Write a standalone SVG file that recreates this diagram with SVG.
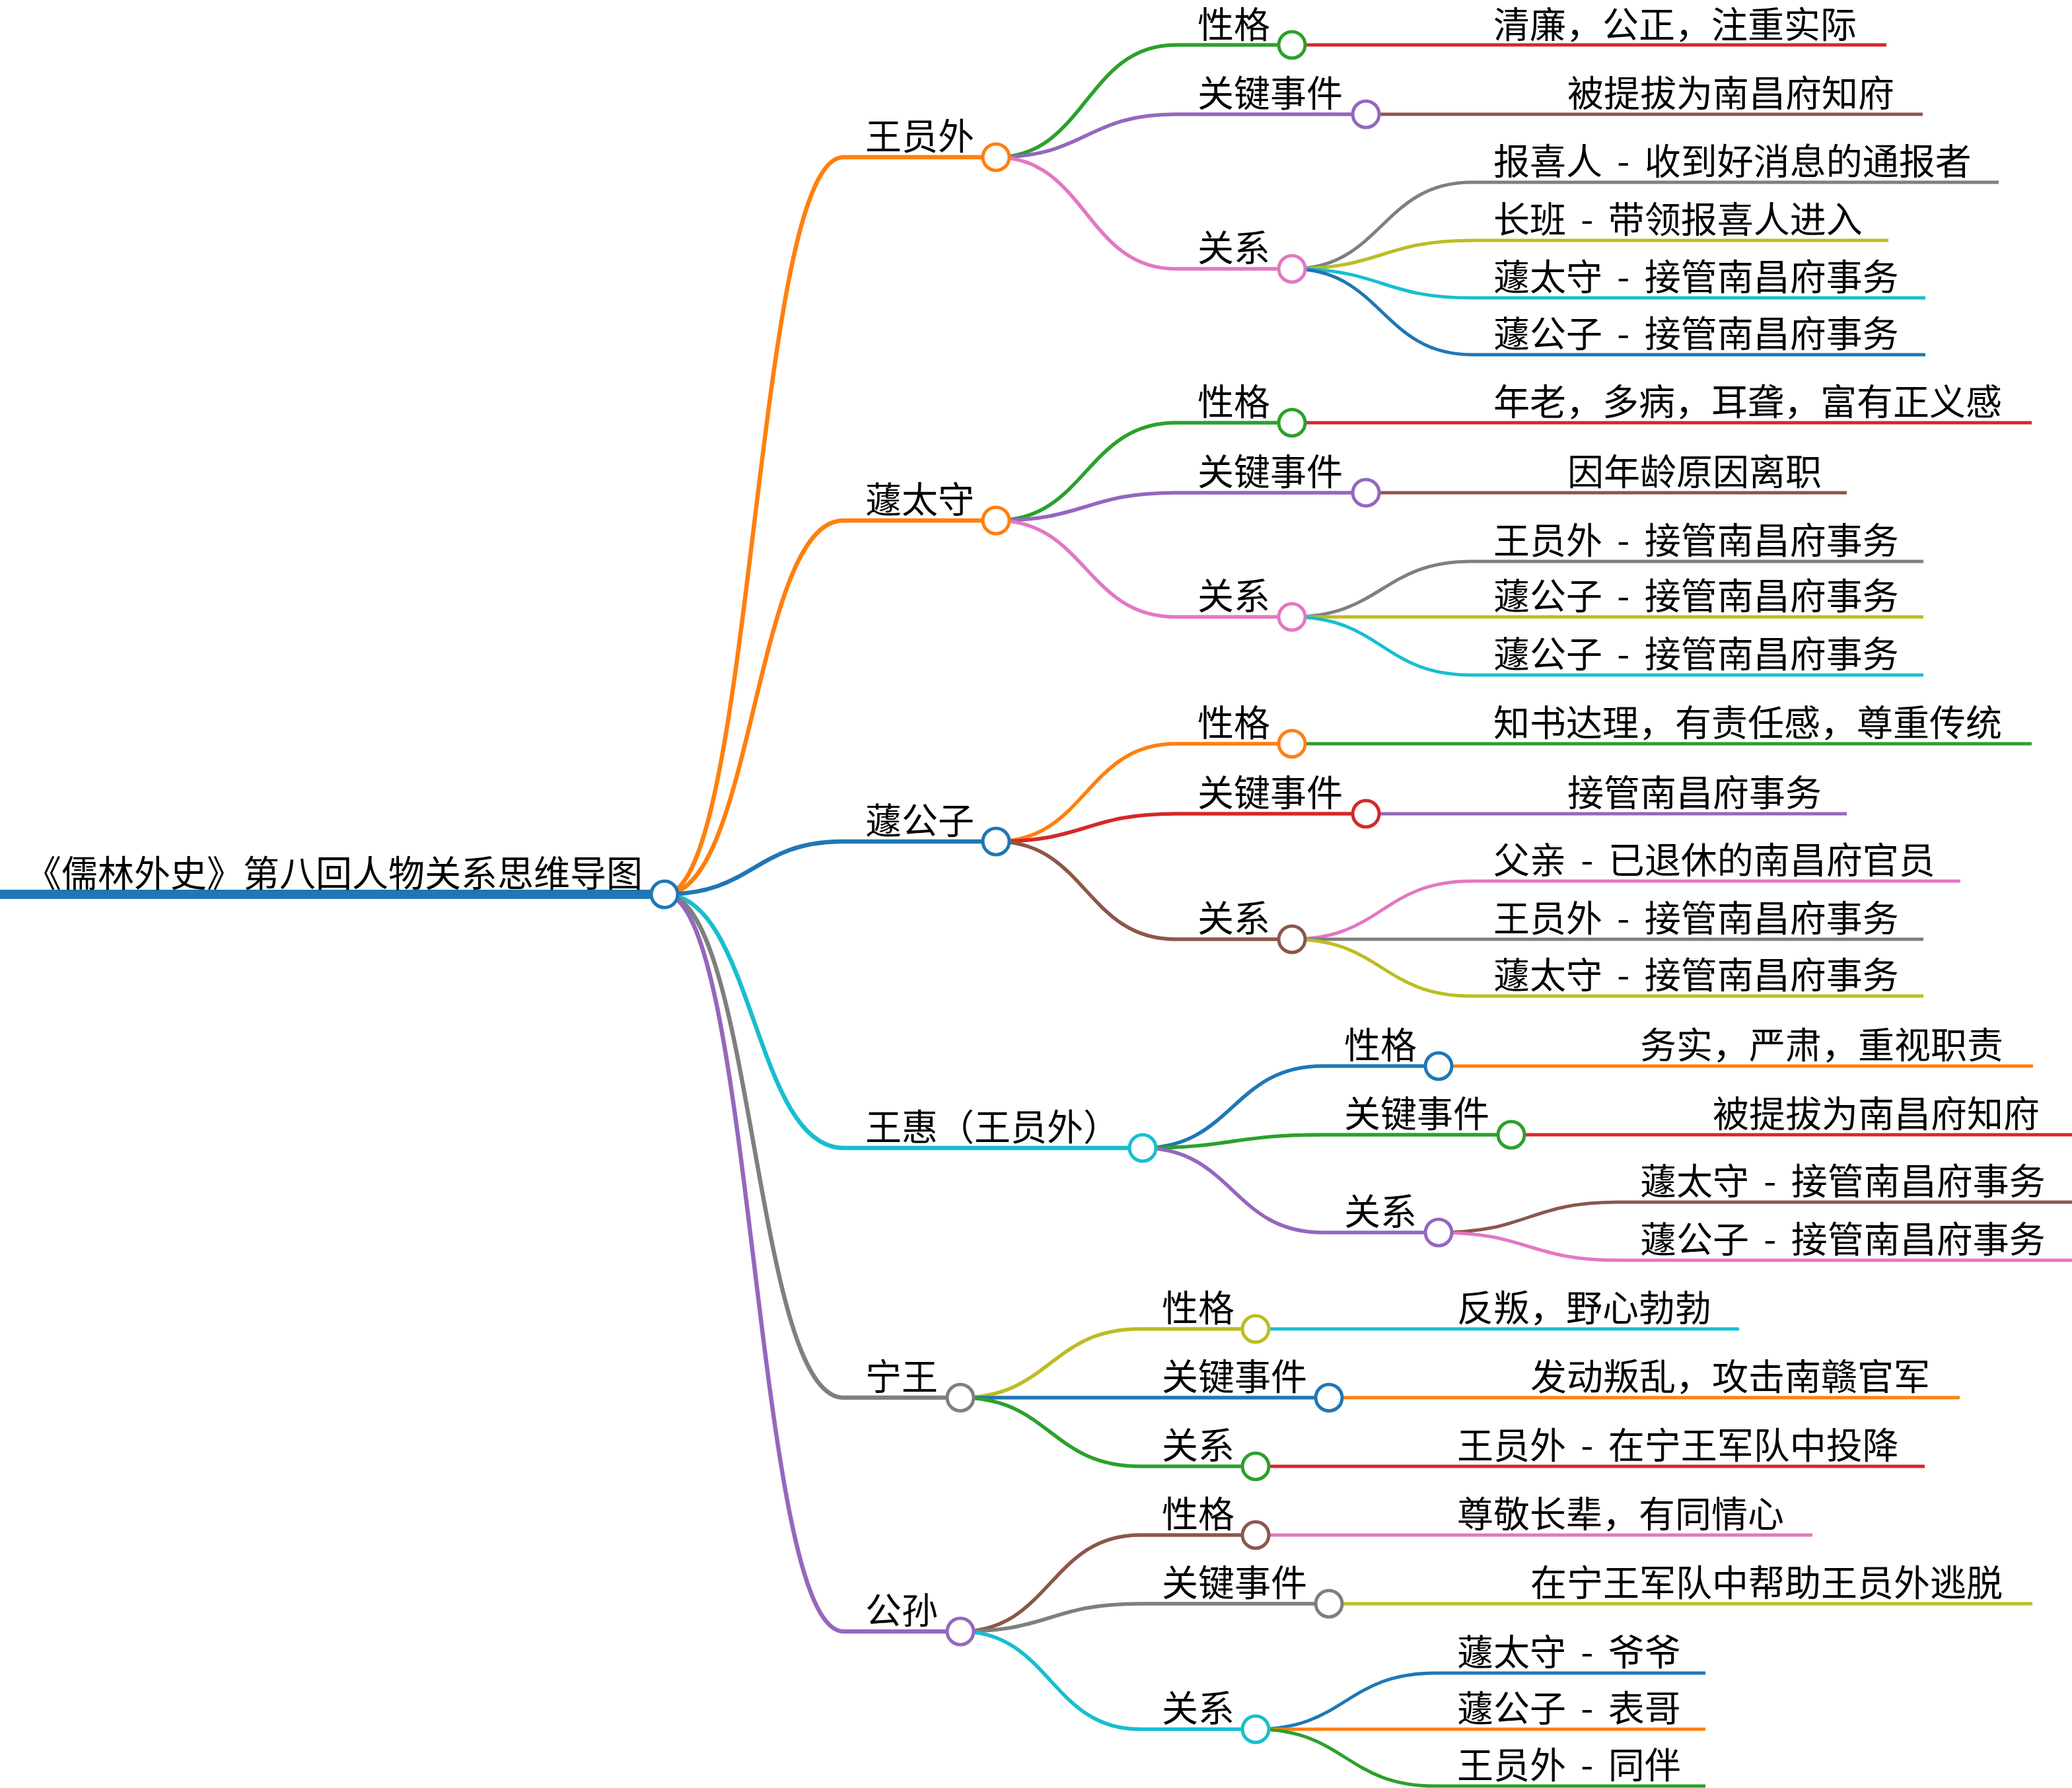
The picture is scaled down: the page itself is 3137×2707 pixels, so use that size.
<svg xmlns="http://www.w3.org/2000/svg" width="3137" height="2707" viewBox="0 0 3137 2707">
<style>
path,line{fill:none;stroke-linecap:butt}
text{font-family:"Noto Sans CJK SC","Noto Sans",sans-serif;font-size:55px;fill:#000;word-spacing:10px}
circle{fill:#fff;stroke-width:5}
.l1{stroke-width:6.5}.l2{stroke-width:5.5}.l3{stroke-width:5}
.c0{stroke:#1f77b4}.c1{stroke:#ff7f0e}.c2{stroke:#2ca02c}.c3{stroke:#d62728}.c4{stroke:#9467bd}
.c5{stroke:#8c564b}.c6{stroke:#e377c2}.c7{stroke:#7f7f7f}.c8{stroke:#bcbd22}.c9{stroke:#17becf}
</style>
<rect width="3137" height="2707" fill="#fff"/>
<g id="connectors">
<path class="l1 c1" d="M1006,1354 C1141.5,1354 1141.5,238 1277,238"/>
<path class="l1 c1" d="M1006,1354 C1141.5,1354 1141.5,788 1277,788"/>
<path class="l1 c0" d="M1006,1354 C1141.5,1354 1141.5,1274 1277,1274"/>
<path class="l1 c9" d="M1006,1354 C1141.5,1354 1141.5,1738 1277,1738"/>
<path class="l1 c7" d="M1006,1354 C1141.5,1354 1141.5,2116 1277,2116"/>
<path class="l1 c4" d="M1006,1354 C1141.5,1354 1141.5,2470 1277,2470"/>
<path class="l2 c2" d="M1508,238 C1644,238 1644,68 1780,68"/>
<path class="l2 c4" d="M1508,238 C1644,238 1644,173 1780,173"/>
<path class="l2 c6" d="M1508,238 C1644,238 1644,407 1780,407"/>
<path class="l2 c2" d="M1508,788 C1644,788 1644,640 1780,640"/>
<path class="l2 c4" d="M1508,788 C1644,788 1644,746 1780,746"/>
<path class="l2 c6" d="M1508,788 C1644,788 1644,934 1780,934"/>
<path class="l2 c1" d="M1508,1274 C1644,1274 1644,1126 1780,1126"/>
<path class="l2 c3" d="M1508,1274 C1644,1274 1644,1232 1780,1232"/>
<path class="l2 c5" d="M1508,1274 C1644,1274 1644,1422 1780,1422"/>
<path class="l2 c0" d="M1730,1738 C1866,1738 1866,1614 2002,1614"/>
<path class="l2 c2" d="M1730,1738 C1866,1738 1866,1718 2002,1718"/>
<path class="l2 c4" d="M1730,1738 C1866,1738 1866,1866 2002,1866"/>
<path class="l2 c8" d="M1454,2116 C1590,2116 1590,2012 1726,2012"/>
<path class="l2 c0" d="M1454,2116 C1590,2116 1590,2116 1726,2116"/>
<path class="l2 c2" d="M1454,2116 C1590,2116 1590,2220 1726,2220"/>
<path class="l2 c5" d="M1454,2470 C1590,2470 1590,2324 1726,2324"/>
<path class="l2 c7" d="M1454,2470 C1590,2470 1590,2428 1726,2428"/>
<path class="l2 c9" d="M1454,2470 C1590,2470 1590,2618 1726,2618"/>
<path class="l3 c3" d="M1956,68 H2228"/>
<path class="l3 c5" d="M2068,173 H2340"/>
<path class="l3 c7" d="M1956,407 C2092,407 2092,276 2228,276"/>
<path class="l3 c8" d="M1956,407 C2092,407 2092,364 2228,364"/>
<path class="l3 c9" d="M1956,407 C2092,407 2092,451 2228,451"/>
<path class="l3 c0" d="M1956,407 C2092,407 2092,537 2228,537"/>
<path class="l3 c3" d="M1956,640 H2228"/>
<path class="l3 c5" d="M2068,746 H2340"/>
<path class="l3 c7" d="M1956,934 C2092,934 2092,850 2228,850"/>
<path class="l3 c8" d="M1956,934 H2228"/>
<path class="l3 c9" d="M1956,934 C2092,934 2092,1022 2228,1022"/>
<path class="l3 c2" d="M1956,1126 H2228"/>
<path class="l3 c4" d="M2068,1232 H2340"/>
<path class="l3 c6" d="M1956,1422 C2092,1422 2092,1334 2228,1334"/>
<path class="l3 c7" d="M1956,1422 H2228"/>
<path class="l3 c8" d="M1956,1422 C2092,1422 2092,1508 2228,1508"/>
<path class="l3 c1" d="M2178,1614 H2450"/>
<path class="l3 c3" d="M2288,1718 H2560"/>
<path class="l3 c5" d="M2178,1866 C2314,1866 2314,1820 2450,1820"/>
<path class="l3 c6" d="M2178,1866 C2314,1866 2314,1908 2450,1908"/>
<path class="l3 c9" d="M1901,2012 H2173"/>
<path class="l3 c1" d="M2012,2116 H2284"/>
<path class="l3 c3" d="M1901,2220 H2173"/>
<path class="l3 c6" d="M1901,2324 H2173"/>
<path class="l3 c8" d="M2012,2428 H2284"/>
<path class="l3 c0" d="M1901,2618 C2037,2618 2037,2533 2173,2533"/>
<path class="l3 c1" d="M1901,2618 H2173"/>
<path class="l3 c2" d="M1901,2618 C2037,2618 2037,2704 2173,2704"/>
</g>
<g id="root"><path class="c0" stroke-width="14" d="M0,1354 H1006"/><circle class="c0" cx="1006" cy="1354" r="20" stroke-width="6"/><text x="38" y="1342">《儒林外史》第八回人物关系思维导图</text></g>
<g id="n-wang"><path class="l1 c1" d="M1277,238 H1508"/><circle class="c1" cx="1508" cy="238" r="20"/><text x="1310" y="226">王员外</text></g>
<g id="n-wang-xg"><path class="l2 c2" d="M1780,68 H1956"/><circle class="c2" cx="1956" cy="68" r="20"/><text x="1813" y="57">性格</text></g>
<g id="n-wang-xg-1"><path class="l3 c3" d="M2228,68 H2856"/><text x="2261" y="57">清廉，公正，注重实际</text></g>
<g id="n-wang-sj"><path class="l2 c4" d="M1780,173 H2068"/><circle class="c4" cx="2068" cy="173" r="20"/><text x="1813" y="161">关键事件</text></g>
<g id="n-wang-sj-1"><path class="l3 c5" d="M2340,173 H2911"/><text x="2373" y="161">被提拔为南昌府知府</text></g>
<g id="n-wang-gx"><path class="l2 c6" d="M1780,407 H1956"/><circle class="c6" cx="1956" cy="407" r="20"/><text x="1813" y="395">关系</text></g>
<g id="n-wang-gx-1"><path class="l3 c7" d="M2228,276 H3026"/><text x="2261" y="264">报喜人 - 收到好消息的通报者</text></g>
<g id="n-wang-gx-2"><path class="l3 c8" d="M2228,364 H2859"/><text x="2261" y="352">长班 - 带领报喜人进入</text></g>
<g id="n-wang-gx-3"><path class="l3 c9" d="M2228,451 H2915"/><text x="2261" y="439">蘧太守 - 接管南昌府事务</text></g>
<g id="n-wang-gx-4"><path class="l3 c0" d="M2228,537 H2915"/><text x="2261" y="525">蘧公子 - 接管南昌府事务</text></g>
<g id="n-qts"><path class="l1 c1" d="M1277,788 H1508"/><circle class="c1" cx="1508" cy="788" r="20"/><text x="1310" y="776">蘧太守</text></g>
<g id="n-qts-xg"><path class="l2 c2" d="M1780,640 H1956"/><circle class="c2" cx="1956" cy="640" r="20"/><text x="1813" y="628">性格</text></g>
<g id="n-qts-xg-1"><path class="l3 c3" d="M2228,640 H3076"/><text x="2261" y="628">年老，多病，耳聋，富有正义感</text></g>
<g id="n-qts-sj"><path class="l2 c4" d="M1780,746 H2068"/><circle class="c4" cx="2068" cy="746" r="20"/><text x="1813" y="734">关键事件</text></g>
<g id="n-qts-sj-1"><path class="l3 c5" d="M2340,746 H2796"/><text x="2373" y="734">因年龄原因离职</text></g>
<g id="n-qts-gx"><path class="l2 c6" d="M1780,934 H1956"/><circle class="c6" cx="1956" cy="934" r="20"/><text x="1813" y="922">关系</text></g>
<g id="n-qts-gx-1"><path class="l3 c7" d="M2228,850 H2912"/><text x="2261" y="838">王员外 - 接管南昌府事务</text></g>
<g id="n-qts-gx-2"><path class="l3 c8" d="M2228,934 H2912"/><text x="2261" y="922">蘧公子 - 接管南昌府事务</text></g>
<g id="n-qts-gx-3"><path class="l3 c9" d="M2228,1022 H2912"/><text x="2261" y="1010">蘧公子 - 接管南昌府事务</text></g>
<g id="n-qgz"><path class="l1 c0" d="M1277,1274 H1508"/><circle class="c0" cx="1508" cy="1274" r="20"/><text x="1310" y="1262">蘧公子</text></g>
<g id="n-qgz-xg"><path class="l2 c1" d="M1780,1126 H1956"/><circle class="c1" cx="1956" cy="1126" r="20"/><text x="1813" y="1114">性格</text></g>
<g id="n-qgz-xg-1"><path class="l3 c2" d="M2228,1126 H3076"/><text x="2261" y="1114">知书达理，有责任感，尊重传统</text></g>
<g id="n-qgz-sj"><path class="l2 c3" d="M1780,1232 H2068"/><circle class="c3" cx="2068" cy="1232" r="20"/><text x="1813" y="1220">关键事件</text></g>
<g id="n-qgz-sj-1"><path class="l3 c4" d="M2340,1232 H2796"/><text x="2373" y="1220">接管南昌府事务</text></g>
<g id="n-qgz-gx"><path class="l2 c5" d="M1780,1422 H1956"/><circle class="c5" cx="1956" cy="1422" r="20"/><text x="1813" y="1410">关系</text></g>
<g id="n-qgz-gx-1"><path class="l3 c6" d="M2228,1334 H2968"/><text x="2261" y="1322">父亲 - 已退休的南昌府官员</text></g>
<g id="n-qgz-gx-2"><path class="l3 c7" d="M2228,1422 H2912"/><text x="2261" y="1410">王员外 - 接管南昌府事务</text></g>
<g id="n-qgz-gx-3"><path class="l3 c8" d="M2228,1508 H2912"/><text x="2261" y="1496">蘧太守 - 接管南昌府事务</text></g>
<g id="n-wh"><path class="l1 c9" d="M1277,1738 H1730"/><circle class="c9" cx="1730" cy="1738" r="20"/><text x="1310" y="1726">王惠（王员外）</text></g>
<g id="n-wh-xg"><path class="l2 c0" d="M2002,1614 H2178"/><circle class="c0" cx="2178" cy="1614" r="20"/><text x="2035" y="1602">性格</text></g>
<g id="n-wh-xg-1"><path class="l3 c1" d="M2450,1614 H3078"/><text x="2483" y="1602">务实，严肃，重视职责</text></g>
<g id="n-wh-sj"><path class="l2 c2" d="M2002,1718 H2288"/><circle class="c2" cx="2288" cy="1718" r="20"/><text x="2035" y="1706">关键事件</text></g>
<g id="n-wh-sj-1"><path class="l3 c3" d="M2560,1718 H3137"/><text x="2593" y="1706">被提拔为南昌府知府</text></g>
<g id="n-wh-gx"><path class="l2 c4" d="M2002,1866 H2178"/><circle class="c4" cx="2178" cy="1866" r="20"/><text x="2035" y="1854">关系</text></g>
<g id="n-wh-gx-1"><path class="l3 c5" d="M2450,1820 H3137"/><text x="2483" y="1808">蘧太守 - 接管南昌府事务</text></g>
<g id="n-wh-gx-2"><path class="l3 c6" d="M2450,1908 H3137"/><text x="2483" y="1896">蘧公子 - 接管南昌府事务</text></g>
<g id="n-nw"><path class="l1 c7" d="M1277,2116 H1454"/><circle class="c7" cx="1454" cy="2116" r="20"/><text x="1310" y="2104">宁王</text></g>
<g id="n-nw-xg"><path class="l2 c8" d="M1726,2012 H1901"/><circle class="c8" cx="1901" cy="2012" r="20"/><text x="1759" y="2000">性格</text></g>
<g id="n-nw-xg-1"><path class="l3 c9" d="M2173,2012 H2633"/><text x="2206" y="2000">反叛，野心勃勃</text></g>
<g id="n-nw-sj"><path class="l2 c0" d="M1726,2116 H2012"/><circle class="c0" cx="2012" cy="2116" r="20"/><text x="1759" y="2104">关键事件</text></g>
<g id="n-nw-sj-1"><path class="l3 c1" d="M2284,2116 H2967"/><text x="2317" y="2104">发动叛乱，攻击南赣官军</text></g>
<g id="n-nw-gx"><path class="l2 c2" d="M1726,2220 H1901"/><circle class="c2" cx="1901" cy="2220" r="20"/><text x="1759" y="2208">关系</text></g>
<g id="n-nw-gx-1"><path class="l3 c3" d="M2173,2220 H2914"/><text x="2206" y="2208">王员外 - 在宁王军队中投降</text></g>
<g id="n-gs"><path class="l1 c4" d="M1277,2470 H1454"/><circle class="c4" cx="1454" cy="2470" r="20"/><text x="1310" y="2458">公孙</text></g>
<g id="n-gs-xg"><path class="l2 c5" d="M1726,2324 H1901"/><circle class="c5" cx="1901" cy="2324" r="20"/><text x="1759" y="2312">性格</text></g>
<g id="n-gs-xg-1"><path class="l3 c6" d="M2173,2324 H2744"/><text x="2206" y="2312">尊敬长辈，有同情心</text></g>
<g id="n-gs-sj"><path class="l2 c7" d="M1726,2428 H2012"/><circle class="c7" cx="2012" cy="2428" r="20"/><text x="1759" y="2416">关键事件</text></g>
<g id="n-gs-sj-1"><path class="l3 c8" d="M2284,2428 H3077"/><text x="2317" y="2416">在宁王军队中帮助王员外逃脱</text></g>
<g id="n-gs-gx"><path class="l2 c9" d="M1726,2618 H1901"/><circle class="c9" cx="1901" cy="2618" r="20"/><text x="1759" y="2606">关系</text></g>
<g id="n-gs-gx-1"><path class="l3 c0" d="M2173,2533 H2582"/><text x="2206" y="2521">蘧太守 - 爷爷</text></g>
<g id="n-gs-gx-2"><path class="l3 c1" d="M2173,2618 H2582"/><text x="2206" y="2606">蘧公子 - 表哥</text></g>
<g id="n-gs-gx-3"><path class="l3 c2" d="M2173,2704 H2582"/><text x="2206" y="2692">王员外 - 同伴</text></g>
</svg>
